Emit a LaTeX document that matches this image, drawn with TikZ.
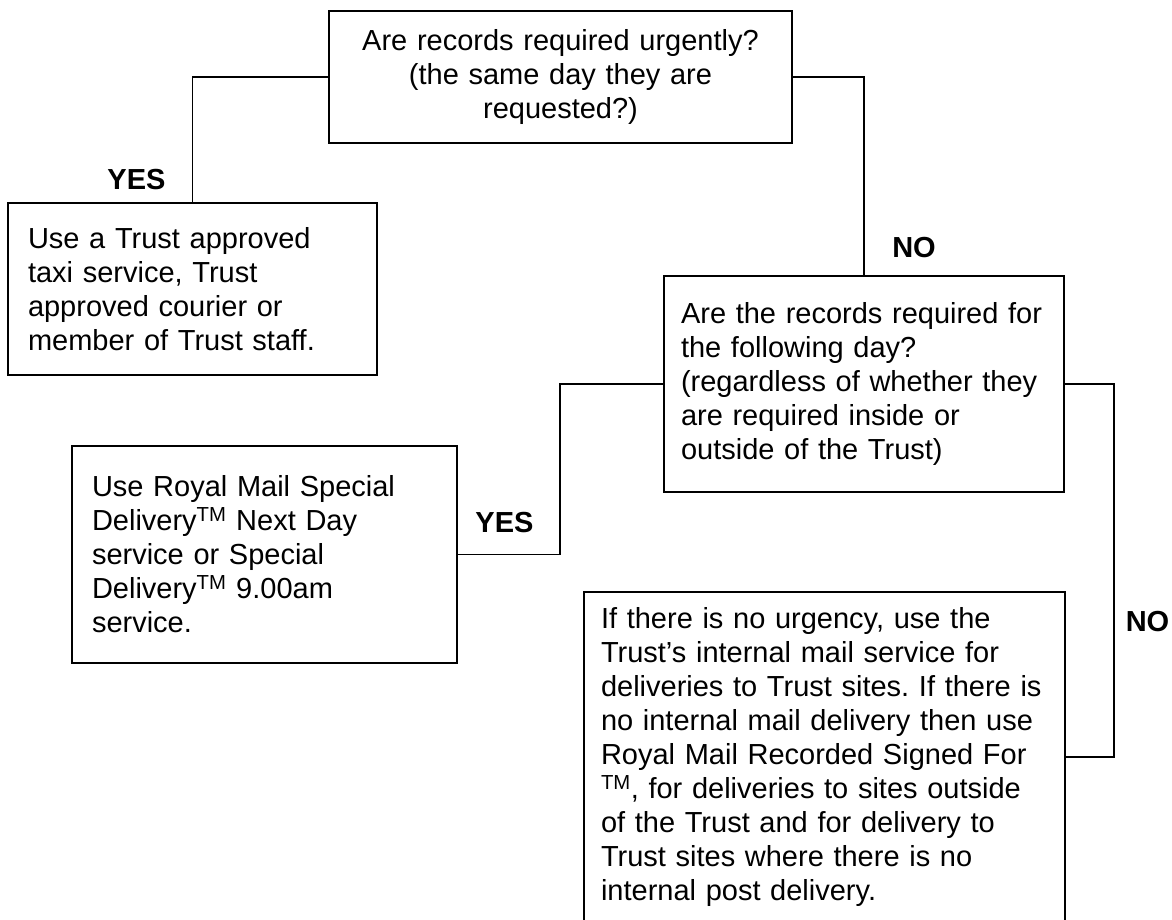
\documentclass[tikz,border=0pt]{standalone}
\usepackage{fontspec}
\setmainfont{Liberation Sans}
\frenchspacing
\begin{document}
\begin{tikzpicture}[x=1pt,y=1pt,line width=1.8pt,
  box/.style={draw,rectangle,inner xsep=20pt,inner ysep=0pt,align=left,
    font=\fontsize{29}{34}\selectfont},
  answer/.style={font=\fontsize{29}{34}\selectfont\bfseries}]
\useasboundingbox (0,0) rectangle (1172,920);
% questions
\node[box,align=center,text width=423pt,minimum height=132pt] (urgent) at (560.5,843)
  {Are records required urgently?\\(the same day they are\\requested?)};
\node[box,inner xsep=17pt,text width=366pt,minimum height=216pt] (nextday) at (864,536)
  {Are the records required for\\the following day?\\(regardless of whether they\\are required inside or\\outside of the Trust)};
% answers
\node[box,text width=329pt,minimum height=172pt] (taxi) at (192.5,631)
  {Use a Trust approved\\taxi service, Trust\\approved courier or\\member of Trust staff.};
\node[box,text width=345pt,minimum height=217pt] (special) at (264.5,365.5)
  {Use Royal Mail Special\\Delivery\textsuperscript{TM} Next Day\\service or Special\\Delivery\textsuperscript{TM} 9.00am\\service.};
\node[box,inner xsep=17pt,text width=447pt,minimum height=330pt] (internal) at (824.5,163)
  {If there is no urgency, use the\\Trust’s internal mail service for\\deliveries to Trust sites. If there is\\no internal mail delivery then use\\Royal Mail Recorded Signed For\\\textsuperscript{TM}, for deliveries to sites outside\\of the Trust and for delivery to\\Trust sites where there is no\\internal post delivery.};
% lines
\draw (urgent.west) -| (taxi.north);
\draw (urgent.east) -| (nextday.north);
\draw (nextday.west) -- ++(-103,0) |- (special.east);
\draw (nextday.east) -- ++(49,0) |- (internal.east);
\node[answer] (yesurgent) at (136.5,740) {YES};
\node[answer] (nourgent) at (914,672) {NO};
\node[answer] (yesnext) at (504.5,397) {YES};
\node[answer] (nonext) at (1147.5,298) {NO};
\end{tikzpicture}
\end{document}
